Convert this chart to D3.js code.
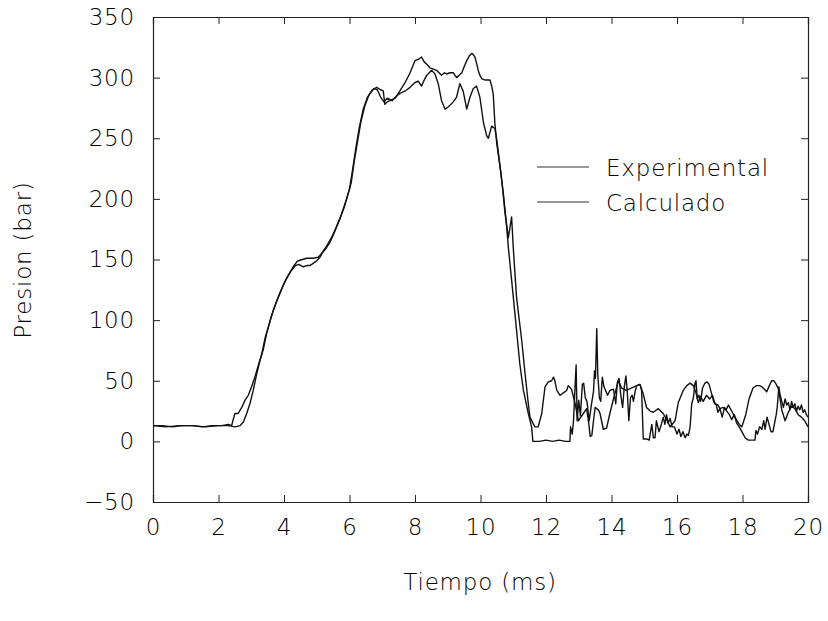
<!DOCTYPE html>
<html>
<head>
<meta charset="utf-8">
<script src="https://cdn.jsdelivr.net/npm/d3@7"></script>
<style>
  body { margin: 0; background: #fff; }
  text { font-family: "DejaVu Sans", "Liberation Sans", sans-serif; font-weight: 200; fill: #000; letter-spacing: 0.8px; }
</style>
</head>
<body>
<div id="viz"></div>
<script>
// tick values
var xTicks = [0, 2, 4, 6, 8, 10, 12, 14, 16, 18, 20];
var yTicks = [-50, 0, 50, 100, 150, 200, 250, 300, 350];
var legendNames = ["Experimental", "Calculado"];

// curve with the 320 bar peak and the flat zero stretches
var timeA = [0, 0.3, 0.6, 0.9, 1.2, 1.5, 1.8, 2.1, 2.3, 2.4, 2.5, 2.6, 2.71, 2.81, 2.91, 3.01, 3.11, 3.22, 3.32, 3.42, 3.52, 3.67, 3.83, 3.98, 4.13, 4.28, 4.39, 4.44, 4.69, 4.9, 5.05, 5.15, 5.25, 5.4, 5.55, 5.7, 5.85, 6.0, 6.1, 6.2, 6.3, 6.42, 6.55, 6.7, 6.83, 6.95, 7.03, 7.08, 7.15, 7.24, 7.39, 7.54, 7.7, 7.85, 8.0, 8.1, 8.2, 8.28, 8.36, 8.46, 8.56, 8.66, 8.81, 8.9, 8.97, 9.07, 9.17, 9.27, 9.35, 9.43, 9.5, 9.58, 9.66, 9.73, 9.78, 9.83, 9.88, 9.93, 9.98, 10.04, 10.15, 10.29, 10.35, 10.39, 10.44, 10.5, 10.6, 10.7, 10.8, 10.85, 10.95, 11.1, 11.2, 11.31, 11.46, 11.56, 11.6, 11.8, 12.0, 12.2, 12.4, 12.6, 12.73,
  12.75, 12.8, 12.84, 12.89, 12.92, 12.95, 13.0, 13.05, 13.11, 13.15, 13.2, 13.25, 13.32, 13.39, 13.45, 13.48, 13.51, 13.55, 13.58, 13.63, 13.67, 13.72, 13.77, 13.82, 13.88, 13.95, 14.06, 14.13, 14.18, 14.23, 14.29, 14.34, 14.39, 14.44, 14.48, 14.53, 14.58, 14.63, 14.67, 14.72, 14.77, 14.87, 14.92, 14.97, 15.07, 15.15, 15.23, 15.28, 15.33, 15.37, 15.45, 15.5, 15.58, 15.63, 15.68, 15.73, 15.79, 15.85, 15.92, 16.0, 16.06, 16.12, 16.18, 16.25, 16.3, 16.35, 16.4, 16.45, 16.5, 16.55, 16.58, 16.62, 16.67, 16.72, 16.78, 16.85, 16.92, 16.98, 17.05, 17.12, 17.2, 17.25, 17.31, 17.38, 17.45, 17.52, 17.6, 17.67, 17.75, 17.82, 17.9, 17.98, 18.08, 18.18, 18.3, 18.38, 18.41, 18.46, 18.52, 18.59, 18.65, 18.69, 18.75, 18.81, 18.87, 18.93, 18.98, 19.03, 19.06, 19.11, 19.15, 19.2, 19.25, 19.3, 19.35, 19.4, 19.45, 19.5, 19.55, 19.6, 19.65, 19.7, 19.75, 19.8, 19.85, 19.9, 19.95, 20];
var presA = [13, 13, 12, 13, 13, 12, 13, 13, 14, 13, 23, 23, 28, 34, 38, 45, 53, 63, 72, 85, 94, 108, 119, 129, 137, 144, 148, 149, 151, 151, 152, 155, 158, 164, 173, 183, 194, 208, 225, 243, 259, 274, 284, 290, 292, 290, 289, 278, 280, 281, 283, 289, 296, 304, 314, 315, 317, 313, 311, 308, 307, 306, 302, 304, 303, 304, 304, 300, 302, 304, 309, 314, 318, 320, 319, 317, 312, 306, 302, 299, 298, 298, 292, 286, 262, 245, 226, 204, 177, 160, 133, 92, 64, 42, 23, 12, 0, 0, 1, 0, 1, 0, 0,
  12, 6, 17, 47, 63, 17, 34, 21, 47, 48, 36, 33, 17, 31, 41, 58, 52, 93, 56, 36, 33, 53, 45, 42, 38, 42, 43, 31, 49, 52, 37, 28, 45, 54, 42, 17, 36, 38, 33, 41, 46, 47, 42, 2, 2, 1, 14, 3, 3, 17, 8, 12, 20, 14, 22, 15, 19, 12, 12, 6, 10, 4, 8, 3, 6, 5, 12, 31, 36, 48, 50, 35, 38, 33, 44, 48, 49, 47, 40, 33, 30, 24, 27, 20, 28, 25, 22, 18, 22, 15, 12, 8, 3, 1, 1, 1, 9, 6, 12, 10, 17, 10, 20, 14, 8, 8, 15, 22, 28, 45, 38, 33, 28, 35, 30, 32, 26, 33, 28, 31, 25, 29, 26, 30, 24, 26, 22, 20];

// curve with the dips near the top and the smooth humps in the tail
var timeB = [0, 0.4, 0.8, 1.2, 1.6, 2.0, 2.3, 2.5, 2.66, 2.76, 2.86, 2.96, 3.06, 3.17, 3.27, 3.37, 3.47, 3.6, 3.75, 3.9, 4.05, 4.2, 4.35, 4.45, 4.59, 4.7, 4.79, 4.9, 5.0, 5.1, 5.2, 5.3, 5.45, 5.6, 5.75, 5.9, 6.05, 6.15, 6.25, 6.35, 6.47, 6.6, 6.75, 6.85, 6.95, 7.05, 7.15, 7.3, 7.45, 7.54, 7.7, 7.85, 8.0, 8.1, 8.2, 8.28, 8.36, 8.51, 8.61, 8.71, 8.81, 8.92, 9.02, 9.17, 9.27, 9.37, 9.47, 9.58, 9.68, 9.78, 9.88, 9.98, 10.09, 10.19, 10.24, 10.34, 10.44, 10.5, 10.65, 10.75, 10.85, 10.95, 11.0, 11.1, 11.26, 11.36, 11.46, 11.51, 11.66, 11.76, 11.87, 11.97, 12.07, 12.17, 12.23, 12.27, 12.33, 12.43, 12.53, 12.63, 12.68, 12.78, 12.89, 12.99, 13.14, 13.24, 13.3, 13.35, 13.4, 13.45, 13.5, 13.6, 13.65, 13.75, 13.85, 13.95, 14.06, 14.21, 14.31, 14.45, 14.6, 14.77, 14.87, 14.97, 15.07, 15.18, 15.28, 15.43, 15.58, 15.7, 15.79, 15.94, 16.04, 16.19, 16.3, 16.4, 16.5, 16.58, 16.65, 16.72, 16.8, 16.9, 17.0, 17.08, 17.16, 17.25, 17.31, 17.41, 17.5, 17.57, 17.67, 17.77, 17.9, 17.98, 18.1, 18.2, 18.32, 18.43, 18.52, 18.59, 18.67, 18.74, 18.82, 18.89, 18.96, 19.03, 19.1, 19.2, 19.3, 19.4, 19.5, 19.6, 19.7, 19.8, 19.9, 20];
var presB = [13, 12, 13, 13, 12, 13, 13, 12, 13, 16, 23, 31, 42, 56, 67, 76, 89, 102, 114, 124, 133, 140, 145, 146, 144, 145, 145, 147, 149, 152, 157, 161, 168, 177, 187, 199, 213, 232, 248, 264, 277, 286, 291, 290, 284, 280, 283, 281, 285, 287, 289, 292, 296, 297, 293, 298, 302, 306, 303, 295, 281, 274, 276, 280, 284, 295, 289, 274, 284, 291, 293, 284, 263, 252, 250, 260, 258, 248, 215, 188, 168, 185, 160, 119, 83, 56, 31, 20, 12, 12, 23, 45, 49, 50, 53, 50, 42, 38, 40, 42, 46, 43, 31, 17, 23, 27, 16, 4, 5, 17, 28, 26, 23, 10, 11, 23, 35, 50, 44, 42, 44, 46, 47, 39, 28, 25, 24, 27, 23, 17, 12, 17, 32, 42, 46, 48, 46, 40, 32, 37, 33, 38, 35, 38, 31, 30, 27, 28, 26, 30, 25, 20, 14, 12, 22, 35, 44, 46, 46, 45, 43, 41, 46, 50, 50, 47, 43, 26, 17, 24, 29, 27, 22, 20, 17, 12];

var W = 828, H = 621;
var mLeft = 153, mRight = 808, mTop = 17, mBottom = 502;

var svg = d3.select("#viz").append("svg")
    .attr("width", W)
    .attr("height", H);

var x = d3.scaleLinear().domain([0, 20]).range([mLeft, mRight]);
var y = d3.scaleLinear().domain([-50, 350]).range([mBottom, mTop]);

// frame with inward ticks on all four sides
var tl = 7;
svg.append("g").attr("transform", "translate(0," + mBottom + ")")
    .call(d3.axisBottom(x).tickValues(xTicks).tickSize(-tl).tickPadding(17).tickFormat(d3.format("d")));
svg.append("g").attr("transform", "translate(0," + mTop + ")")
    .call(d3.axisTop(x).tickValues(xTicks).tickSize(-tl).tickFormat(""));
svg.append("g").attr("transform", "translate(" + mLeft + ",0)")
    .call(d3.axisLeft(y).tickValues(yTicks).tickSize(-tl).tickPadding(18)
        .tickFormat(function(d){ return d < 0 ? "\u2212" + Math.abs(d) : d; }));
svg.append("g").attr("transform", "translate(" + mRight + ",0)")
    .call(d3.axisRight(y).tickValues(yTicks).tickSize(-tl).tickFormat(""));

svg.selectAll(".domain").attr("stroke", "#222").attr("stroke-width", 1.2);
svg.selectAll(".tick line").attr("stroke", "#222").attr("stroke-width", 1);
svg.selectAll(".tick text")
    .style("font-family", "'DejaVu Sans', sans-serif")
    .style("font-weight", 200)
    .style("font-size", "23px")
    .attr("fill", "#000");

var line = d3.line()
    .x(function(d){ return x(d[0]); })
    .y(function(d){ return y(d[1]); });

var series = [d3.zip(timeA, presA), d3.zip(timeB, presB)];
svg.selectAll(".curve").data(series).enter().append("path")
    .attr("class", "curve")
    .attr("d", line)
    .attr("fill", "none")
    .attr("stroke", "#111")
    .attr("stroke-width", 1.4)
    .attr("stroke-linejoin", "round");

// legend
var lg = svg.append("g");
legendNames.forEach(function(name, i){
    var ly = 167 + i * 35;
    lg.append("line")
        .attr("x1", 537).attr("x2", 589)
        .attr("y1", ly).attr("y2", ly)
        .attr("stroke", "#333").attr("stroke-width", 1.2);
    lg.append("text")
        .attr("x", 606).attr("y", ly + 9)
        .style("font-size", "23px")
        .text(name);
});

// axis titles
svg.append("text")
    .attr("x", 480).attr("y", 590)
    .attr("text-anchor", "middle")
    .style("font-size", "23px")
    .text("Tiempo (ms)");
svg.append("text")
    .attr("transform", "translate(31,260) rotate(-90)")
    .attr("text-anchor", "middle")
    .style("font-size", "23px")
    .text("Presion (bar)");
</script>
</body>
</html>
